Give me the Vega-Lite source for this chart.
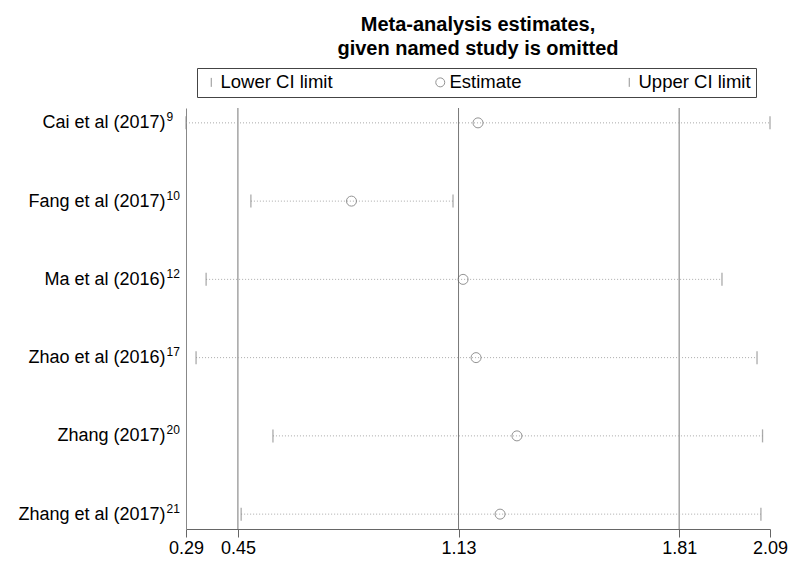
{
  "$schema": "https://vega.github.io/schema/vega-lite/v6.json",
  "autosize": {"type": "none"},
  "padding": {"left": 186, "top": 108, "right": 18, "bottom": 33},
  "width": 584,
  "height": 421,
  "background": "white",
  "title": {
    "text": ["Meta-analysis estimates,", "given named study is omitted"],
    "font": "Liberation Sans",
    "fontSize": 20,
    "fontWeight": "bold",
    "color": "black",
    "anchor": "middle",
    "frame": "group",
    "lineHeight": 24,
    "offset": 9
  },
  "data": {
    "values": [
      {"label": "Cai et al (2017)^9", "kind": "Lower CI limit", "value": 0.29},
      {"label": "Cai et al (2017)^9", "kind": "Estimate", "value": 1.19},
      {"label": "Cai et al (2017)^9", "kind": "Upper CI limit", "value": 2.09},
      {"label": "Fang et al (2017)^10", "kind": "Lower CI limit", "value": 0.49},
      {"label": "Fang et al (2017)^10", "kind": "Estimate", "value": 0.8},
      {"label": "Fang et al (2017)^10", "kind": "Upper CI limit", "value": 1.113},
      {"label": "Ma et al (2016)^12", "kind": "Lower CI limit", "value": 0.352},
      {"label": "Ma et al (2016)^12", "kind": "Estimate", "value": 1.144},
      {"label": "Ma et al (2016)^12", "kind": "Upper CI limit", "value": 1.942},
      {"label": "Zhao et al (2016)^17", "kind": "Lower CI limit", "value": 0.321},
      {"label": "Zhao et al (2016)^17", "kind": "Estimate", "value": 1.184},
      {"label": "Zhao et al (2016)^17", "kind": "Upper CI limit", "value": 2.05},
      {"label": "Zhang (2017)^20", "kind": "Lower CI limit", "value": 0.558},
      {"label": "Zhang (2017)^20", "kind": "Estimate", "value": 1.31},
      {"label": "Zhang (2017)^20", "kind": "Upper CI limit", "value": 2.067},
      {"label": "Zhang et al (2017)^21", "kind": "Lower CI limit", "value": 0.46},
      {"label": "Zhang et al (2017)^21", "kind": "Estimate", "value": 1.258},
      {"label": "Zhang et al (2017)^21", "kind": "Upper CI limit", "value": 2.062}
    ]
  },
  "layer": [
    {
      "data": {"values": [{"ref": 0.45}, {"ref": 1.13}, {"ref": 1.81}]},
      "mark": {"type": "rule", "color": "#777777", "strokeWidth": 1},
      "encoding": {
        "x": {
          "field": "ref",
          "type": "quantitative",
          "scale": {"domain": [0.29, 2.09], "nice": false, "zero": false},
          "axis": {"values": [0.29, 0.45, 1.13, 1.81, 2.09], "format": ".2f"}
        }
      }
    },
    {
      "mark": {"type": "rule", "color": "#aaaaaa", "strokeWidth": 1, "strokeDash": [1, 2]},
      "encoding": {
        "y": {
          "field": "label",
          "type": "nominal",
          "sort": null,
          "scale": {"type": "point", "padding": 0.19},
          "axis": {
            "orient": "left",
            "labelExpr": "split(datum.label, '^')[0]",
            "labelFontSize": 18,
            "labelPadding": 21,
            "domain": true,
            "ticks": false
          }
        },
        "x": {"aggregate": "min", "field": "value", "type": "quantitative"},
        "x2": {"aggregate": "max", "field": "value"}
      }
    },
    {
      "encoding": {
        "y": {
          "field": "label",
          "type": "nominal",
          "sort": null,
          "scale": {"type": "point", "padding": 0.19},
          "axis": {
            "orient": "left",
            "labelExpr": "split(datum.label, '^')[1]",
            "labelFontSize": 12,
            "labelOffset": -6,
            "labelPadding": 20,
            "labelAlign": "left",
            "domain": false,
            "ticks": false
          }
        },
        "x": {"field": "value", "type": "quantitative"}
      },
      "layer": [
        {
          "transform": [{"filter": "datum.kind !== 'Estimate'"}],
          "mark": {"type": "point", "filled": false, "size": 169, "color": "#888888", "strokeWidth": 1.3},
          "encoding": {
            "shape": {
              "field": "kind",
              "type": "nominal",
              "scale": {"domain": ["Lower CI limit", "Estimate", "Upper CI limit"], "range": ["M0,-1L0,1", "circle", "M0,-1L0,1"]},
              "legend": {
                "orient": "none",
                "legendX": 11,
                "legendY": -40,
                "direction": "horizontal",
                "columns": 3,
                "title": null,
                "strokeColor": "#444444",
                "padding": 5,
                "columnPadding": 98,
                "labelFont": "Liberation Sans",
                "labelFontSize": 18.5,
                "labelColor": "black",
                "labelOffset": 0,
                "symbolSize": 80,
                "symbolStrokeColor": "#666666",
                "symbolFillColor": "transparent",
                "symbolStrokeWidth": 1
              }
            }
          }
        },
        {
          "transform": [{"filter": "datum.kind === 'Estimate'"}],
          "mark": {"type": "point", "filled": false, "size": 100, "color": "#666666", "strokeWidth": 1},
          "encoding": {
            "shape": {"field": "kind", "type": "nominal"}
          }
        }
      ]
    }
  ],
  "resolve": {"scale": {"y": "independent"}, "axis": {"y": "independent"}},
  "config": {
    "view": {"stroke": null},
    "axisX": {
      "title": null,
      "labelFont": "Liberation Sans",
      "labelFontSize": 18,
      "labelColor": "black",
      "labelPadding": 2,
      "tickSize": 8,
      "tickColor": "#666666",
      "domainColor": "#666666",
      "grid": false,
      "labelFlush": false
    },
    "axisY": {
      "title": null,
      "labelFont": "Liberation Sans",
      "labelColor": "black",
      "domainColor": "#888888",
      "grid": false,
      "labelLimit": 300
    }
  }
}
